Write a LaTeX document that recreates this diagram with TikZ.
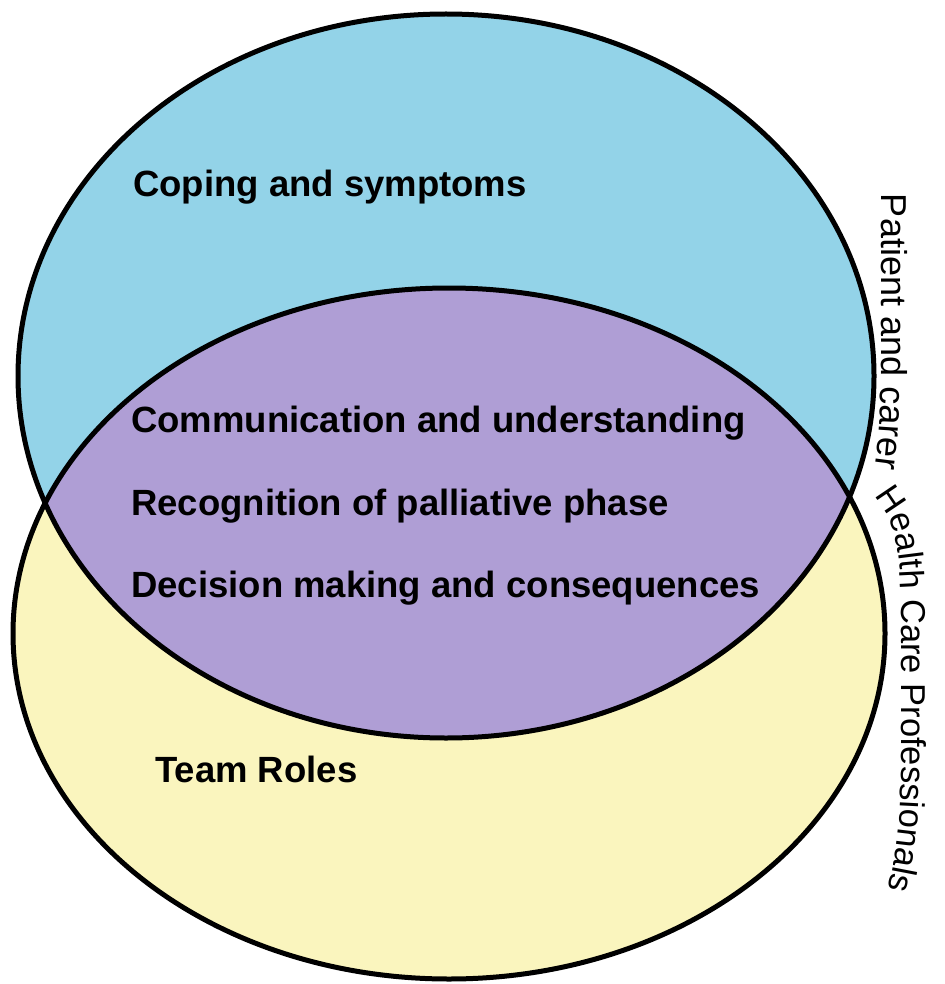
\documentclass[tikz,border=0pt]{standalone}
\usepackage{fontspec}
\setmainfont{Liberation Sans}
\usetikzlibrary{decorations.text}

\definecolor{setblue}{HTML}{93D3E8}
\definecolor{setpurple}{HTML}{AF9ED5}
\definecolor{setyellow}{HTML}{FAF5BE}

\newcommand{\themefont}{\fontsize{36.5}{41}\selectfont\bfseries}
\newcommand{\sidefont}{\fontsize{36}{40}\selectfont}
\newcommand{\hcpfont}{\fontsize{34.5}{40}\selectfont}

\begin{document}
\begin{tikzpicture}[x=1pt,y=-1pt,
  outline/.style={draw=black, line width=5pt},
  theme/.style={anchor=base west, inner sep=0pt, font=\themefont},
  sidelabel/.style={decorate, decoration={text along path, text align=left, text={#1}}}
]
\useasboundingbox (0,0) rectangle (944,984);
\fill[white] (0,0) rectangle (944,984);

% the two sets
\coordinate (pc) at (446,376);
\coordinate (hc) at (449,633.5);
\fill[setblue] (pc) ellipse [x radius=428, y radius=362];
\fill[setyellow] (hc) ellipse [x radius=436, y radius=345.5];
% overlap of the sets
\begin{scope}
  \clip (pc) ellipse [x radius=428, y radius=362];
  \fill[setpurple] (hc) ellipse [x radius=436, y radius=345.5];
\end{scope}
\draw[outline] (pc) ellipse [x radius=428, y radius=362];
\draw[outline] (hc) ellipse [x radius=436, y radius=345.5];

% themes
\node[theme] (coping) at (133,197) {Coping and symptoms};
\node[theme] (comm)   at (131,432) {Communication and understanding};
\node[theme] (recog)  at (131,515) {Recognition of palliative phase};
\node[theme] (decis)  at (131,597) {Decision making and consequences};
\node[theme] (team)   at (155,782) {Team Roles};

% set labels running along the outlines
\path[sidelabel={|\sidefont|Patient and carer}]
  (881,194) -- (881,360) .. controls (881,420) and (879,450) .. (871,495);
\path[sidelabel={|\hcpfont|Health Care Professionals}]
  (874,496) .. controls (894,516) and (901,550) .. (901,605)
  -- (901,770) .. controls (901,820) and (897,862) .. (880,920);
\end{tikzpicture}
\end{document}
